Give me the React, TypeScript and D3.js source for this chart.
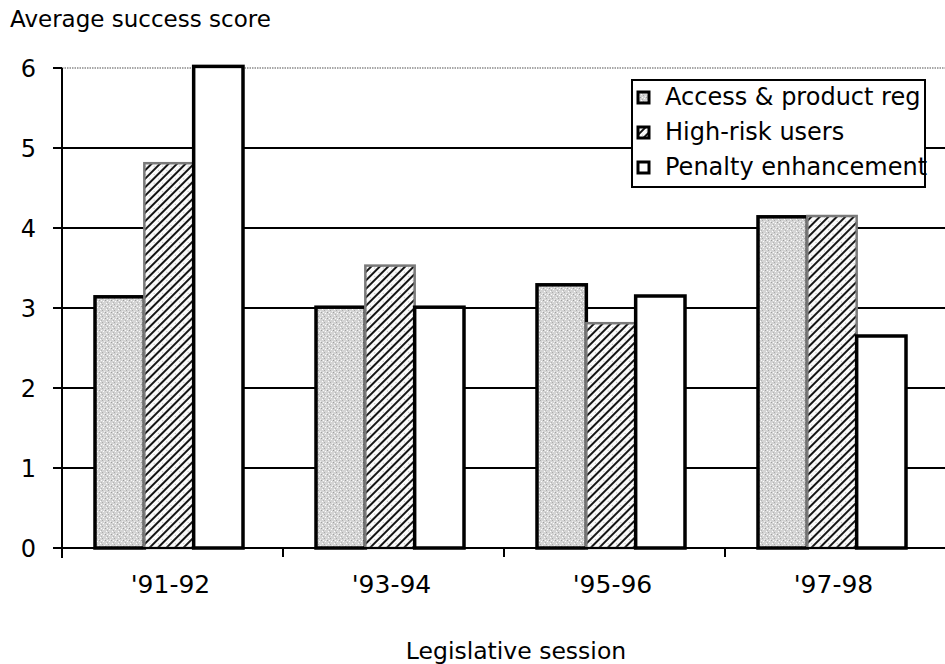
import React from 'react';
import * as d3 from 'd3';

// values
const sessions = ["'91-92", "'93-94", "'95-96", "'97-98"];
const seriesNames = ['Access & product reg', 'High-risk users', 'Penalty enhancement'];
const accessValues = [3.14, 3.01, 3.29, 4.14];
const highRiskValues = [4.81, 3.53, 2.81, 4.15];
const penaltyValues = [6.02, 3.01, 3.15, 2.65];
const yTicks = [0, 1, 2, 3, 4, 5, 6];

const W = 945;
const H = 664;
const margin = { top: 68, right: 0, bottom: 116, left: 62 };
const FONT = '"DejaVu Sans", Verdana, sans-serif';

const fills = ['url(#stipple)', 'url(#hatch)', '#ffffff'];
const strokes = ['#000', '#7a7a7a', '#000'];

const App: React.FC = () => {
  const x = d3.scaleBand<string>().domain(sessions).range([margin.left, 946]);
  const inner = d3.scaleBand<string>().domain(seriesNames).range([33, 181]);
  const y = d3.scaleLinear().domain([0, 6]).range([H - margin.bottom, margin.top]);

  const seriesValues = [accessValues, highRiskValues, penaltyValues];
  const bars = sessions.flatMap((s, i) =>
    seriesNames.map((name, k) => ({ s, name, k, v: seriesValues[k][i] }))
  );

  const x0 = margin.left;
  const x1 = W;
  const y0 = y(0);

  return (
    <svg width={W} height={H} style={{ position: 'absolute', left: 0, top: 0, background: '#fff' }}
      fontFamily={FONT}>
      <defs>
        <pattern id="stipple" width="6" height="6" patternUnits="userSpaceOnUse">
          <rect width="6" height="6" fill="#d4d4d4" />
          <rect x="1" y="1" width="1" height="1" fill="#fff" />
          <rect x="4" y="3" width="1" height="1" fill="#fff" />
          <rect x="2" y="5" width="1" height="1" fill="#f0f0f0" />
          <rect x="5" y="0" width="1" height="1" fill="#fafafa" />
          <rect x="3" y="0" width="1" height="1" fill="#a0a0a0" />
          <rect x="0" y="4" width="1" height="1" fill="#aaaaaa" />
          <rect x="5" y="2" width="1" height="1" fill="#b4b4b4" />
        </pattern>
        <pattern id="hatch" width="6" height="6" patternUnits="userSpaceOnUse"
          patternTransform="rotate(45)">
          <rect width="6" height="6" fill="#fafafa" />
          <rect x="0" y="0" width="2" height="6" fill="#151515" />
          <rect x="4" y="2" width="1" height="1" fill="#bbbbbb" />
        </pattern>
      </defs>

      {/* grid */}
      {yTicks.filter(t => t > 0).map(t => (
        <line key={t} x1={x0} x2={x1} y1={y(t)} y2={y(t)}
          stroke={t === 6 ? '#8a8a8a' : '#000'}
          strokeWidth={t === 6 ? 1.5 : 2}
          strokeDasharray={t === 6 ? '1.5 1' : undefined} />
      ))}

      {/* bars */}
      {bars.map(b => {
        const bx = (x(b.s) || 0) + (inner(b.name) || 0);
        const by = y(b.v);
        return (
          <rect key={b.s + b.k} x={bx} y={by} width={inner.bandwidth()} height={y0 - by}
            fill={fills[b.k]} stroke={strokes[b.k]} strokeWidth={b.k === 1 ? 2.5 : 3.5} />
        );
      })}

      {/* y axis */}
      <line x1={x0} x2={x0} y1={y(6)} y2={y0 + 10} stroke="#000" strokeWidth={2} />
      {yTicks.map(t => (
        <g key={t}>
          <line x1={x0 - 9} x2={x0} y1={y(t)} y2={y(t)} stroke="#000" strokeWidth={2} />
          <text x={x0 - 26} y={y(t)} dy="0.36em" textAnchor="end" fontSize={24}>{t}</text>
        </g>
      ))}

      {/* x axis */}
      <line x1={x0} x2={x1} y1={y0} y2={y0} stroke="#000" strokeWidth={2} />
      {sessions.slice(1).map(s => (
        <line key={s} x1={x(s) || 0} x2={x(s) || 0} y1={y0} y2={y0 + 9} stroke="#000" strokeWidth={2} />
      ))}
      {sessions.map(s => (
        <text key={s} x={(x(s) || 0) + x.bandwidth() / 2 - 2} y={593} textAnchor="middle" fontSize={25}>{s}</text>
      ))}

      {/* titles */}
      <text x={10} y={27} fontSize={23}>Average success score</text>
      <text x={(x0 + 946) / 2 + 12} y={659} textAnchor="middle" fontSize={23.5}>Legislative session</text>

      {/* legend */}
      <g>
        <rect x={632} y={80} width={293} height={107} fill="#fff" stroke="#000" strokeWidth={2} />
        {seriesNames.map((name, k) => (
          <g key={name} transform={`translate(637, ${91 + k * 35})`}>
            <rect x={1} y={1} width={11} height={11} fill={fills[k]} stroke="#000" strokeWidth={3} />
            <text x={28} y={14} fontSize={24}>{name}</text>
          </g>
        ))}
      </g>
    </svg>
  );
};

export default App;
